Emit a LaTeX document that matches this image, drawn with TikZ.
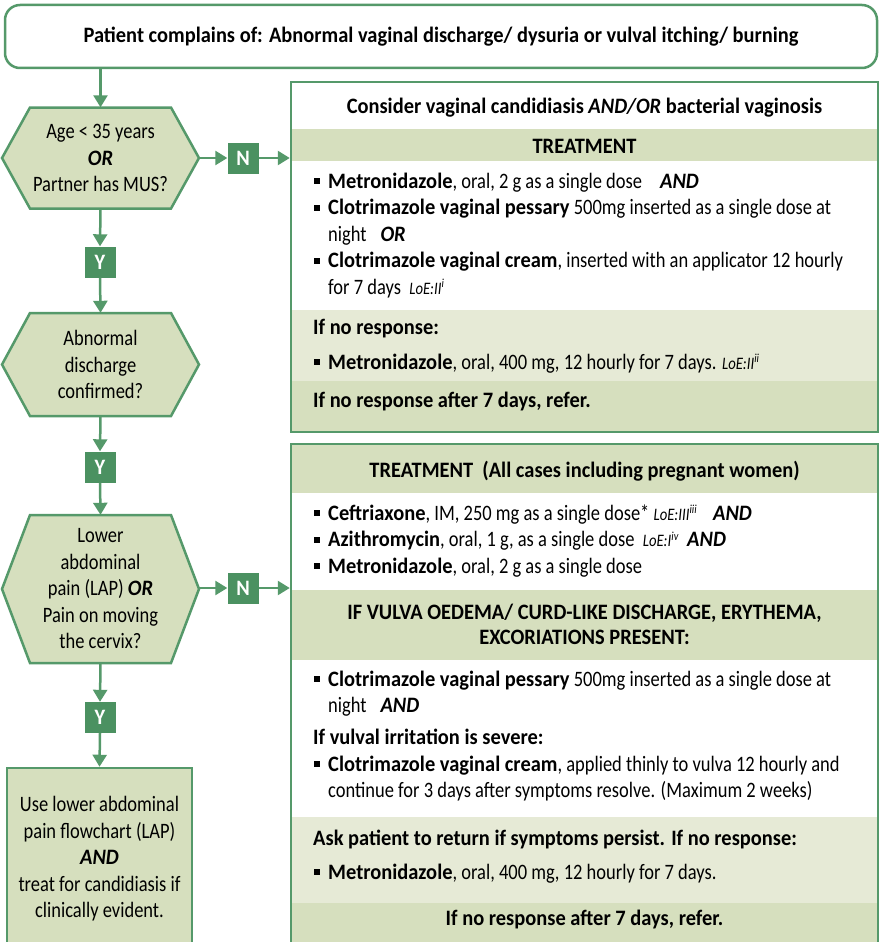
\documentclass[tikz,border=0pt]{standalone}
\usepackage{fontspec}
\setmainfont{Carlito}[FakeStretch=0.84, BoldFeatures={FakeStretch=0.93}, BoldItalicFeatures={FakeStretch=0.93}]
\usetikzlibrary{arrows.meta}
\definecolor{fgreen}{HTML}{55996A}
\definecolor{ynfill}{HTML}{4B9161}
\definecolor{bandfill}{HTML}{D6DFBE}
\definecolor{palefill}{HTML}{E6EAD6}
\def\hexagon(#1,#2,#3){\draw[hexshape] (#1-98.5,#2) -- (#1-70.5,#2-#3) -- (#1+70.5,#2-#3) -- (#1+98.5,#2) -- (#1+70.5,#2+#3) -- (#1-70.5,#2+#3) -- cycle;}
\newcommand\sqb{\rule[4pt]{6pt}{6pt}}
\newcommand\loe[2]{{\fontsize{17.5}{17.5}\selectfont\itshape LoE:#1\textsuperscript{#2}}}
\newcommand\bi[1]{\textbf{\textit{#1}}}
\tikzset{
  bodyfont/.style={font=\fontsize{22}{26.5}\selectfont},
  boldfont/.style={font=\fontsize{22}{26.5}\selectfont\bfseries},
  greenline/.style={draw=fgreen, line width=2.5pt},
  flowarrow/.style={greenline, -{Triangle[length=12pt,width=14pt]}},
  hexshape/.style={greenline, fill=bandfill},
  hextext/.style={bodyfont, align=center, inner sep=0pt, minimum width=197pt},
  ynbox/.style={fill=ynfill, text=white, font=\fontsize{22}{22}\selectfont\bfseries, inner sep=0pt, minimum width=31pt, minimum height=31pt},
  banner/.style={greenline, fill=white, rounded corners=15pt, boldfont, minimum width=872pt, minimum height=63pt},
  panel/.style={greenline, minimum width=587pt, inner sep=0pt},
  listtext/.style={bodyfont, anchor=base west, inner sep=0pt},
  headtext/.style={boldfont, anchor=base, inner sep=0pt, align=center}
}
\begin{document}
\begin{tikzpicture}[x=1pt,y=-1pt]
%%%%% START %%%%%
\clip (0,0) rectangle (881,942);
\fill[white] (0,0) rectangle (881,942);

\node[banner] (start) at (441,36.5) {Patient complains of: Abnormal vaginal discharge/ dysuria or vulval itching/ burning};

%%% first treatment panel
\fill[bandfill] (291,129) rectangle (878,161);
\fill[palefill] (291,310) rectangle (878,381);
\fill[bandfill] (291,381) rectangle (878,432);
\node[panel, minimum height=350pt] (box1) at (584.5,257) {};

\node[headtext] (cons) at (584.5,113) {Consider vaginal candidiasis \bi{AND/OR} bacterial vaginosis};
\node[headtext] (tr1) at (584.5,153) {TREATMENT};
\node[listtext] (list1) at (314,188) {\begin{tabular}[t]{@{}l@{\hspace{8pt}}l@{}}
\sqb & \textbf{Metronidazole}, oral, 2 g as a single dose\hspace{18pt}\bi{AND}\\
\sqb & \textbf{Clotrimazole vaginal pessary} 500mg inserted as a single dose at\\
 & night\hspace{14pt}\bi{OR}\\
\sqb & \textbf{Clotrimazole vaginal cream}, inserted with an applicator 12 hourly\\
 & for 7 days \ \loe{II}{i}
\end{tabular}};
\node[listtext, boldfont] (nr1) at (313,334) {If no response:};
\node[listtext] (list2) at (314,369) {\begin{tabular}[t]{@{}l@{\hspace{8pt}}l@{}}
\sqb & \textbf{Metronidazole}, oral, 400 mg, 12 hourly for 7 days. \loe{II}{ii}
\end{tabular}};
\node[listtext, boldfont] (ref1) at (313,407) {If no response after 7 days, refer.};

%%% second treatment panel
\fill[bandfill] (291,444) rectangle (878,493);
\fill[bandfill] (291,590) rectangle (878,660);
\fill[palefill] (291,817) rectangle (878,903);
\fill[bandfill] (291,903) rectangle (878,960);
\node[panel, minimum height=516pt] (box2) at (584.5,702) {};

\node[headtext] (tr2) at (584.5,477) {TREATMENT \ (All cases including pregnant women)};
\node[listtext] (list3) at (314,520) {\begin{tabular}[t]{@{}l@{\hspace{8pt}}l@{}}
\sqb & \textbf{Ceftriaxone}, IM, 250 mg as a single dose* \loe{III}{iii}\hspace{16pt}\bi{AND}\\
\sqb & \textbf{Azithromycin}, oral, 1 g, as a single dose \ \loe{I}{iv} \ \bi{AND}\\
\sqb & \textbf{Metronidazole}, oral, 2 g as a single dose
\end{tabular}};
\node[headtext] (vul) at (584.5,644) {IF VULVA OEDEMA/ CURD-LIKE DISCHARGE, ERYTHEMA,\\[-1.5pt]EXCORIATIONS PRESENT:};
\node[listtext] (list4) at (314,686) {\begin{tabular}[t]{@{}l@{\hspace{8pt}}l@{}}
\sqb & \textbf{Clotrimazole vaginal pessary} 500mg inserted as a single dose at\\
 & night\hspace{14pt}\bi{AND}
\end{tabular}};
\node[listtext, boldfont] (sev) at (313,744) {If vulval irritation is severe:};
\node[listtext] (list5) at (314,771) {\begin{tabular}[t]{@{}l@{\hspace{8pt}}l@{}}
\sqb & \textbf{Clotrimazole vaginal cream}, applied thinly to vulva 12 hourly and\\
 & continue for 3 days after symptoms resolve. (Maximum 2 weeks)
\end{tabular}};
\node[listtext, boldfont] (ask) at (313,845) {Ask patient to return if symptoms persist. If no response:};
\node[listtext] (list6) at (314,879) {\begin{tabular}[t]{@{}l@{\hspace{8pt}}l@{}}
\sqb & \textbf{Metronidazole}, oral, 400 mg, 12 hourly for 7 days.
\end{tabular}};
\node[headtext] (ref2) at (584.5,925) {If no response after 7 days, refer.};

%%% decision column
\hexagon(100.5,158,50.5)
\node[hextext, minimum height=101pt] (q1) at (100.5,158) {Age < 35 years\\\bi{OR}\\Partner has MUS?};
\hexagon(100.5,364.5,51.5)
\node[hextext, minimum height=103pt] (q2) at (100.5,364.5) {Abnormal\\discharge\\confirmed?};
\hexagon(100.5,589,74)
\node[hextext, minimum height=148pt] (q3) at (100.5,589) {Lower\\abdominal\\pain (LAP) \bi{OR}\\Pain on moving\\the cervix?};

\node[ynbox] (n1) at (243,158) {N};
\node[ynbox] (n2) at (243,588) {N};
\node[ynbox] (y1) at (100,262) {Y};
\node[ynbox] (y2) at (100,467) {Y};
\node[ynbox] (y3) at (100,717.5) {Y};

\node[greenline, fill=bandfill, bodyfont, align=center, minimum width=185pt, minimum height=182pt] (act) at (99.5,859) {Use lower abdominal\\pain flowchart (LAP)\\\bi{AND}\\treat for candidiasis if\\clinically evident.};

\draw[flowarrow] (start.south -| q1.north) -- (q1.north);
\draw[flowarrow] (q1.south) -- (y1.north);
\draw[flowarrow] (y1.south) -- (q2.north);
\draw[flowarrow] (q2.south) -- (y2.north);
\draw[flowarrow] (y2.south) -- (q3.north);
\draw[flowarrow] (q3.south) -- (y3.north);
\draw[flowarrow] (y3.south) -- (act.north);
\draw[flowarrow] (q1.east) -- (n1.west);
\draw[flowarrow] (n1.east) -- (n1.east -| box1.west);
\draw[flowarrow] (q3.east |- n2.west) -- (n2.west);
\draw[flowarrow] (n2.east) -- (n2.east -| box2.west);
%%%%% END %%%%%
\end{tikzpicture}
\end{document}
